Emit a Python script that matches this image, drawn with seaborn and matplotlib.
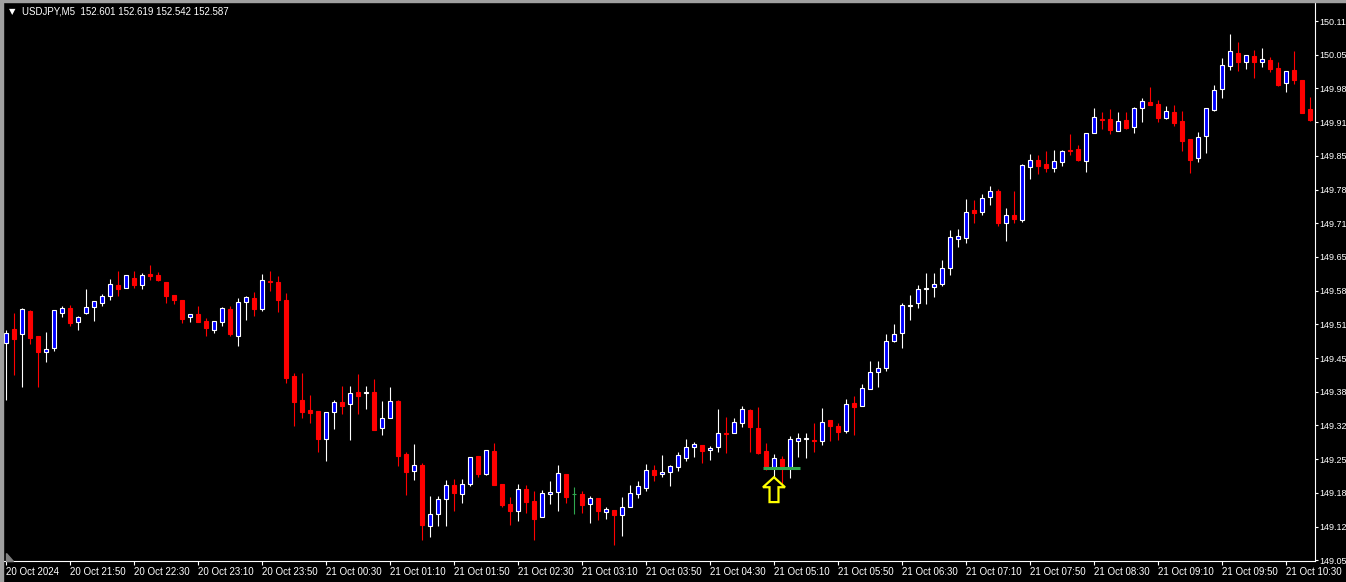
import matplotlib
matplotlib.use("Agg")
import numpy as np
import matplotlib.pyplot as plt
import seaborn as sns
from matplotlib.patches import Polygon

# -------------------------------
# Data (USDJPY M5)
# -------------------------------

caption = "USDJPY,M5  152.601 152.619 152.542 152.587"

opens = [
    149.482, 149.510, 149.500, 149.545, 149.496, 149.465, 149.472, 149.541, 149.551, 149.524,
    149.541, 149.553, 149.561, 149.575, 149.597, 149.591, 149.610, 149.597, 149.618, 149.616,
    149.602, 149.577, 149.567, 149.534, 149.539, 149.526, 149.508, 149.524, 149.549, 149.496,
    149.563, 149.571, 149.549, 149.604, 149.602, 149.567, 149.417, 149.370, 149.350, 149.348,
    149.293, 149.346, 149.366, 149.362, 149.386, 149.384, 149.386, 149.315, 149.335, 149.368,
    149.264, 149.230, 149.242, 149.122, 149.145, 149.175, 149.202, 149.185, 149.204, 149.260,
    149.224, 149.269, 149.204, 149.165, 149.151, 149.194, 149.171, 149.140, 149.185, 149.189,
    149.224, 149.185, 149.185, 149.165, 149.177, 149.149, 149.153, 149.143, 149.159, 149.185,
    149.196, 149.232, 149.224, 149.228, 149.238, 149.256, 149.277, 149.281, 149.271, 149.277,
    149.305, 149.305, 149.325, 149.350, 149.315, 149.269, 149.238, 149.254, 149.238, 149.289,
    149.293, 149.291, 149.289, 149.331, 149.319, 149.309, 149.364, 149.358, 149.392, 149.425,
    149.433, 149.486, 149.502, 149.555, 149.561, 149.589, 149.593, 149.599, 149.630, 149.687,
    149.689, 149.744, 149.740, 149.770, 149.781, 149.719, 149.734, 149.724, 149.829, 149.843,
    149.835, 149.827, 149.839, 149.862, 149.864, 149.841, 149.896, 149.924, 149.924, 149.900,
    149.922, 149.908, 149.945, 149.957, 149.953, 149.926, 149.937, 149.920, 149.885, 149.847,
    149.890, 149.941, 149.983, 150.028, 150.054, 150.036, 150.048, 150.036, 150.040, 150.024,
    149.994, 150.020, 150.000, 149.943,
]

highs = [
    149.508, 149.541, 149.551, 149.547, 149.496, 149.504, 149.547, 149.555, 149.557, 149.536,
    149.589, 149.565, 149.579, 149.608, 149.624, 149.616, 149.624, 149.620, 149.636, 149.622,
    149.602, 149.577, 149.567, 149.539, 149.555, 149.532, 149.526, 149.553, 149.555, 149.571,
    149.575, 149.583, 149.618, 149.624, 149.614, 149.581, 149.423, 149.423, 149.380, 149.348,
    149.346, 149.370, 149.398, 149.398, 149.421, 149.398, 149.411, 149.368, 149.396, 149.370,
    149.268, 149.283, 149.246, 149.181, 149.181, 149.212, 149.214, 149.214, 149.258, 149.260,
    149.271, 149.285, 149.204, 149.179, 149.204, 149.202, 149.191, 149.193, 149.210, 149.242,
    149.224, 149.198, 149.191, 149.181, 149.177, 149.159, 149.153, 149.179, 149.202, 149.210,
    149.244, 149.242, 149.262, 149.242, 149.268, 149.293, 149.287, 149.281, 149.279, 149.352,
    149.337, 149.335, 149.358, 149.352, 149.356, 149.285, 149.264, 149.260, 149.299, 149.305,
    149.305, 149.325, 149.354, 149.331, 149.325, 149.372, 149.378, 149.402, 149.447, 149.447,
    149.500, 149.520, 149.561, 149.577, 149.597, 149.620, 149.620, 149.646, 149.705, 149.707,
    149.766, 149.764, 149.775, 149.791, 149.785, 149.748, 149.781, 149.835, 149.854, 149.852,
    149.860, 149.862, 149.862, 149.894, 149.872, 149.896, 149.945, 149.938, 149.943, 149.938,
    149.938, 149.947, 149.965, 149.987, 149.961, 149.949, 149.951, 149.939, 149.885, 149.898,
    149.945, 149.991, 150.044, 150.091, 150.075, 150.050, 150.060, 150.063, 150.046, 150.036,
    150.018, 150.058, 150.000, 149.967,
]

lows = [
    149.370, 149.419, 149.396, 149.480, 149.396, 149.445, 149.466, 149.534, 149.516, 149.508,
    149.539, 149.526, 149.555, 149.567, 149.575, 149.591, 149.591, 149.589, 149.606, 149.604,
    149.561, 149.559, 149.522, 149.524, 149.524, 149.496, 149.502, 149.516, 149.496, 149.476,
    149.528, 149.536, 149.545, 149.585, 149.543, 149.403, 149.319, 149.335, 149.325, 149.268,
    149.250, 149.313, 149.342, 149.291, 149.342, 149.352, 149.311, 149.301, 149.335, 149.240,
    149.183, 149.212, 149.094, 149.100, 149.122, 149.122, 149.151, 149.167, 149.200, 149.218,
    149.222, 149.202, 149.159, 149.124, 149.132, 149.147, 149.094, 149.140, 149.165, 149.151,
    149.167, 149.145, 149.147, 149.128, 149.134, 149.136, 149.084, 149.102, 149.159, 149.177,
    149.191, 149.210, 149.218, 149.200, 149.230, 149.250, 149.258, 149.246, 149.252, 149.268,
    149.266, 149.305, 149.317, 149.268, 149.264, 149.232, 149.218, 149.204, 149.216, 149.258,
    149.256, 149.268, 149.281, 149.289, 149.291, 149.305, 149.301, 149.358, 149.392, 149.396,
    149.427, 149.484, 149.472, 149.528, 149.551, 149.559, 149.573, 149.595, 149.616, 149.671,
    149.679, 149.719, 149.734, 149.754, 149.713, 149.683, 149.719, 149.721, 149.806, 149.815,
    149.819, 149.819, 149.831, 149.852, 149.841, 149.819, 149.896, 149.904, 149.894, 149.900,
    149.904, 149.896, 149.918, 149.951, 149.918, 149.924, 149.910, 149.860, 149.817, 149.839,
    149.857, 149.939, 149.965, 150.020, 150.018, 150.022, 150.004, 150.026, 150.016, 149.989,
    149.977, 149.993, 149.935, 149.920,
]

closes = [
    149.502, 149.490, 149.549, 149.492, 149.465, 149.470, 149.547, 149.551, 149.522, 149.534,
    149.553, 149.565, 149.575, 149.599, 149.589, 149.616, 149.597, 149.616, 149.614, 149.606,
    149.575, 149.567, 149.530, 149.539, 149.524, 149.512, 149.526, 149.551, 149.500, 149.563,
    149.573, 149.549, 149.606, 149.602, 149.567, 149.413, 149.366, 149.346, 149.344, 149.293,
    149.346, 149.366, 149.358, 149.384, 149.378, 149.386, 149.311, 149.335, 149.368, 149.260,
    149.228, 149.242, 149.124, 149.145, 149.175, 149.202, 149.187, 149.204, 149.258, 149.224,
    149.271, 149.202, 149.163, 149.151, 149.194, 149.169, 149.136, 149.187, 149.189, 149.226,
    149.179, 149.185, 149.163, 149.177, 149.151, 149.155, 149.143, 149.159, 149.187, 149.200,
    149.232, 149.222, 149.228, 149.240, 149.262, 149.277, 149.283, 149.269, 149.275, 149.305,
    149.303, 149.327, 149.352, 149.317, 149.266, 149.238, 149.256, 149.240, 149.293, 149.295,
    149.295, 149.289, 149.327, 149.319, 149.307, 149.362, 149.356, 149.394, 149.425, 149.433,
    149.486, 149.500, 149.557, 149.557, 149.589, 149.591, 149.599, 149.630, 149.691, 149.693,
    149.740, 149.738, 149.768, 149.781, 149.719, 149.734, 149.726, 149.833, 149.843, 149.831,
    149.827, 149.841, 149.860, 149.860, 149.843, 149.896, 149.928, 149.922, 149.902, 149.920,
    149.906, 149.945, 149.959, 149.951, 149.926, 149.939, 149.916, 149.881, 149.843, 149.888,
    149.945, 149.981, 150.030, 150.058, 150.036, 150.050, 150.036, 150.042, 150.022, 149.991,
    150.018, 150.000, 149.935, 149.922,
]

# one label every 8 bars (40 minutes), first bar is 20 Oct 21:10
time_labels = [
    "20 Oct 2024", "20 Oct 21:50", "20 Oct 22:30", "20 Oct 23:10", "20 Oct 23:50",
    "21 Oct 00:30", "21 Oct 01:10", "21 Oct 01:50", "21 Oct 02:30", "21 Oct 03:10",
    "21 Oct 03:50", "21 Oct 04:30", "21 Oct 05:10", "21 Oct 05:50", "21 Oct 06:30",
    "21 Oct 07:10", "21 Oct 07:50", "21 Oct 08:30", "21 Oct 09:10", "21 Oct 09:50",
    "21 Oct 10:30",
]
label_every = 8

price_ticks = [
    149.054, 149.120, 149.187, 149.253, 149.320, 149.386, 149.452, 149.519, 149.585,
    149.652, 149.718, 149.784, 149.851, 149.917, 149.984, 150.050, 150.116,
]

# hand-drawn marks on the chart
support_level = 149.236
support_start, support_end = 94.6, 99.25
signal_bar = 96
signal_price = 149.218

# -------------------------------
# Style
# -------------------------------

BULL = "#0000ff"
BEAR = "#ff0000"
DOJI = "#2fa84f"
FG = "white"

sns.set_style("dark", {"axes.facecolor": "black", "figure.facecolor": "black",
                       "axes.edgecolor": FG, "xtick.color": FG, "ytick.color": FG,
                       "text.color": FG, "axes.labelcolor": FG})
plt.rcParams["font.family"] = ["Liberation Sans Narrow", "Liberation Sans", "DejaVu Sans"]

W, H = 1346, 582
fig = plt.figure(figsize=(W / 100, H / 100), dpi=100)
ax = fig.add_axes([4 / W, 21 / H, 1311 / W, 559 / H])
ax.set_facecolor("black")
ax.grid(False)

o, h, l, c = (np.array(v) for v in (opens, highs, lows, closes))
x = np.arange(len(o))
up, down, flat = c > o, c < o, c == o
body_w = 0.62

# wicks
ax.vlines(x[up], l[up], h[up], color=FG, lw=0.8, zorder=1)
ax.vlines(x[down], l[down], h[down], color=BEAR, lw=0.8, zorder=1)
ax.vlines(x[flat], l[flat], h[flat], color=DOJI, lw=0.8, zorder=1)

# bodies
ax.bar(x[up], (c - o)[up], bottom=o[up], width=body_w, color=BULL,
       edgecolor=FG, linewidth=0.8, zorder=2)
ax.bar(x[down], (o - c)[down], bottom=c[down], width=body_w, color=BEAR,
       edgecolor=BEAR, linewidth=0.8, zorder=2)
ax.hlines(o[flat], x[flat] - body_w / 2, x[flat] + body_w / 2, color=DOJI, lw=0.8, zorder=2)

# green level and yellow arrow
ax.hlines(support_level, support_start, support_end, color=DOJI, lw=2.2, zorder=3)
hw, sw = 1.375, 0.56          # half widths in bars
head, tail = 0.0197, 0.049    # heights in price
arrow = Polygon([
    (signal_bar, signal_price),
    (signal_bar + hw, signal_price - head),
    (signal_bar + sw, signal_price - head),
    (signal_bar + sw, signal_price - tail),
    (signal_bar - sw, signal_price - tail),
    (signal_bar - sw, signal_price - head),
    (signal_bar - hw, signal_price - head),
], closed=True, facecolor="black", edgecolor="#ffff00", lw=1.6, zorder=4)
ax.add_patch(arrow)

ax.set_xlim(-0.25, 163.625)
ax.set_ylim(149.053, 150.154)

# axes frame: only right and bottom, like the terminal
for side in ("top", "left"):
    ax.spines[side].set_visible(False)
for side in ("right", "bottom"):
    ax.spines[side].set_color(FG)
    ax.spines[side].set_linewidth(0.8)

ax.set_xticks(np.arange(len(time_labels)) * label_every, time_labels)
for lab in ax.get_xticklabels():
    lab.set_horizontalalignment("left")
ax.yaxis.tick_right()
# the screenshot only has room for two decimals on the price scale
ax.set_yticks(price_ticks, [f"{int(p * 100) / 100:.2f}" for p in price_ticks])
ax.tick_params(axis="x", colors=FG, length=3, width=0.8, labelsize=7, pad=1.5,
               direction="out", bottom=True)
ax.tick_params(axis="y", colors=FG, length=2.5, width=0.8, labelsize=6.5, pad=0.8,
               direction="out", right=True, left=False)

# caption
fig.text(9 / W, 1 - 12 / H, "\u25bc", fontsize=6, color=FG, va="center",
         family=["DejaVu Sans"])
fig.text(22 / W, 1 - 12 / H, caption, fontsize=7, color=FG, va="center")

# window border and small corner marker
fig.patches.append(plt.Rectangle((0, 1 - 2 / H), 1, 2 / H, transform=fig.transFigure,
                                 color="#a0a0a0", zorder=5))
fig.patches.append(plt.Rectangle((0, 0), 3 / W, 1, transform=fig.transFigure,
                                 color="#a0a0a0", zorder=5))
fig.patches.append(Polygon([(6 / W, 1 - 553 / H), (6 / W, 1 - 561 / H), (13 / W, 1 - 561 / H)],
                           closed=True, transform=fig.transFigure, color="#808080", zorder=5))

fig.savefig("out.png", dpi=100, facecolor="black")
